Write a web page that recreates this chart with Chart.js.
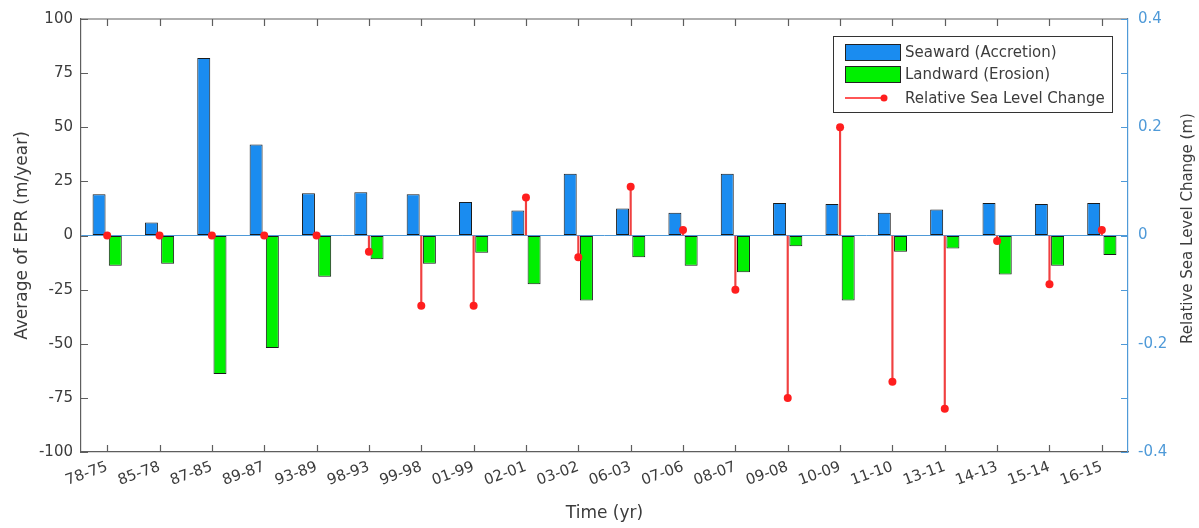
<!DOCTYPE html>
<html>
<head>
<meta charset="utf-8">
<script src="https://cdn.jsdelivr.net/npm/chart.js@4.4.0/dist/chart.umd.min.js"></script>
<style>
  body { margin: 0; background: #fff; }
</style>
</head>
<body>
<canvas id="eprChart" width="1199" height="528"></canvas>
<script>
// periods compared (later year - earlier year)
const periods = ["78-75", "85-78", "87-85", "89-87", "93-89", "98-93", "99-98", "01-99", "02-01", "03-02",
  "06-03", "07-06", "08-07", "09-08", "10-09", "11-10", "13-11", "14-13", "15-14", "16-15"];

// average EPR, m/year
const seaward = [19, 6, 82, 42, 19.5, 20, 19, 15.5, 11.5, 28.5, 12.5, 10.5, 28.5, 15, 14.5, 10.5, 12, 15, 14.5, 15];
const landward = [-14, -13, -64, -52, -19, -11, -13, -8, -22.5, -30, -10, -14, -17, -5, -30, -7.5, -6, -18, -14, -9];

// relative sea level change, m
const seaLevel = [0, 0, 0, 0, 0, -0.03, -0.13, -0.13, 0.07, -0.04, 0.09, 0.01, -0.1, -0.3, 0.2, -0.27, -0.32, -0.01, -0.09, 0.01];

const legendNames = ["Seaward (Accretion)", "Landward (Erosion)", "Relative Sea Level Change"];
const rightTitle = "Relative Sea Level Change (m)";

const BLUE = "#1a8cf0";
const GREEN = "#00f000";
const RED = "#ff1e1e";
const AXIS_BLUE = "#4f9ad8";
const AXIS_GRAY = "#5e5e5e";
const TEXT = "#3c3c3c";
const FONT = "'DejaVu Sans', 'Liberation Sans', sans-serif";

Chart.defaults.font.family = FONT;
Chart.defaults.color = TEXT;

// matlab style ticks pointing into the plot, plus the top frame line
const inwardTicks = {
  id: "inwardTicks",
  afterDatasetsDraw(chart) {
    const ctx = chart.ctx;
    const area = chart.chartArea;
    const x = chart.scales.x;
    const y = chart.scales.y;
    const y1 = chart.scales.y1;
    const len = 7;
    ctx.save();
    ctx.lineWidth = 1.2;
    ctx.strokeStyle = AXIS_GRAY;
    ctx.beginPath();
    ctx.moveTo(area.left, area.top);
    ctx.lineTo(area.right, area.top);
    x.ticks.forEach((t, i) => {
      const px = Math.round(x.getPixelForTick(i)) + 0.5;
      ctx.moveTo(px, area.bottom);
      ctx.lineTo(px, area.bottom - len);
      ctx.moveTo(px, area.top);
      ctx.lineTo(px, area.top + len);
    });
    y.ticks.forEach((t) => {
      const py = Math.round(y.getPixelForValue(t.value)) + 0.5;
      ctx.moveTo(area.left, py);
      ctx.lineTo(area.left + len, py);
    });
    ctx.stroke();
    ctx.strokeStyle = AXIS_BLUE;
    ctx.beginPath();
    y1.ticks.forEach((t) => {
      const py = Math.round(y1.getPixelForValue(t.value)) + 0.5;
      ctx.moveTo(area.right, py);
      ctx.lineTo(area.right - len, py);
    });
    ctx.stroke();

    // right axis title reads bottom to top, like the left one
    ctx.font = "15px " + FONT;
    ctx.fillStyle = TEXT;
    ctx.textAlign = "center";
    ctx.textBaseline = "middle";
    ctx.translate(1188, (area.top + area.bottom) / 2 - 7);
    ctx.rotate(-Math.PI / 2);
    ctx.fillText(rightTitle, 0, 0);
    ctx.restore();
  },
};

// boxed legend in the upper right corner of the plot
const boxLegend = {
  id: "boxLegend",
  afterDraw(chart) {
    const ctx = chart.ctx;
    const area = chart.chartArea;
    const w = 279, h = 76;
    const left = area.right - 16 - w;
    const top = area.top + 17;
    ctx.save();
    ctx.fillStyle = "#fff";
    ctx.fillRect(left, top, w, h);
    ctx.lineWidth = 1;
    ctx.strokeStyle = "#333";
    ctx.strokeRect(left + 0.5, top + 0.5, w, h);

    const rows = [top + 16, top + 38, top + 62];
    ctx.font = "15px " + FONT;
    ctx.textBaseline = "middle";
    ctx.fillStyle = TEXT;
    legendNames.forEach((name, i) => {
      ctx.fillText(name, left + 72, rows[i] + 1);
    });

    ctx.strokeStyle = "#222";
    ctx.fillStyle = BLUE;
    ctx.fillRect(left + 12, rows[0] - 8, 55, 16);
    ctx.strokeRect(left + 12.5, rows[0] - 7.5, 55, 16);
    ctx.fillStyle = GREEN;
    ctx.fillRect(left + 12, rows[1] - 8, 55, 16);
    ctx.strokeRect(left + 12.5, rows[1] - 7.5, 55, 16);

    ctx.strokeStyle = RED;
    ctx.lineWidth = 1.5;
    ctx.beginPath();
    ctx.moveTo(left + 12, rows[2]);
    ctx.lineTo(left + 52, rows[2]);
    ctx.stroke();
    ctx.fillStyle = RED;
    ctx.beginPath();
    ctx.arc(left + 51, rows[2], 3.5, 0, Math.PI * 2);
    ctx.fill();
    ctx.restore();
  },
};

const chartCanvas = document.getElementById("eprChart").getContext("2d");
new Chart(chartCanvas, {
  data: {
    labels: periods,
    datasets: [
      {
        type: "bar",
        label: legendNames[0],
        data: seaward,
        backgroundColor: BLUE,
        borderColor: "#1a1a1a",
        borderWidth: 1,
        borderSkipped: false,
        categoryPercentage: 0.62,
        barPercentage: 0.8,
        yAxisID: "y",
        order: 3,
      },
      {
        type: "bar",
        label: legendNames[1],
        data: landward,
        backgroundColor: GREEN,
        borderColor: "#1a1a1a",
        borderWidth: 1,
        borderSkipped: false,
        categoryPercentage: 0.62,
        barPercentage: 0.8,
        yAxisID: "y",
        order: 3,
      },
      {
        // stems of the stem plot
        type: "bar",
        label: "stems",
        data: seaLevel.map((v) => [0, v]),
        backgroundColor: "#f04040",
        borderWidth: 0,
        barThickness: 1.5,
        grouped: false,
        yAxisID: "y1",
        order: 2,
      },
      {
        type: "line",
        label: legendNames[2],
        data: seaLevel,
        showLine: false,
        pointRadius: 4,
        pointBackgroundColor: RED,
        pointBorderWidth: 0,
        yAxisID: "y1",
        order: 1,
      },
    ],
  },
  options: {
    responsive: false,
    animation: false,
    layout: { padding: { top: 18, left: 0, right: 0, bottom: 0 } },
    plugins: {
      legend: { display: false },
      tooltip: { enabled: false },
    },
    scales: {
      x: {
        offset: true,
        grid: { drawOnChartArea: false, drawTicks: false },
        border: { display: true, color: AXIS_GRAY, width: 1.2 },
        ticks: {
          font: { size: 15 },
          color: TEXT,
          minRotation: 20,
          maxRotation: 20,
          autoSkip: false,
          padding: 6,
        },
        title: {
          display: true,
          text: "Time (yr)",
          font: { size: 17 },
          color: TEXT,
          padding: { top: 0, bottom: 4 },
        },
        afterFit(scale) {
          scale.height = 76;
        },
      },
      y: {
        position: "left",
        min: -100,
        max: 100,
        grid: {
          drawOnChartArea: true,
          drawTicks: false,
          color: (c) => (c.tick && c.tick.value === 0 ? AXIS_BLUE : "rgba(0,0,0,0)"),
        },
        border: { display: true, color: AXIS_GRAY, width: 1.2 },
        ticks: { stepSize: 25, font: { size: 15 }, color: TEXT, padding: 8 },
        title: {
          display: true,
          text: "Average of EPR (m/year)",
          font: { size: 17 },
          color: TEXT,
          padding: { top: 12, bottom: 0 },
        },
        afterFit(scale) {
          scale.width = 81;
        },
      },
      y1: {
        position: "right",
        min: -0.4,
        max: 0.4,
        grid: { drawOnChartArea: false, drawTicks: false },
        border: { display: true, color: AXIS_BLUE, width: 1.2 },
        ticks: {
          stepSize: 0.1,
          font: { size: 15 },
          color: AXIS_BLUE,
          padding: 10,
          callback: (v) => {
            const tenth = Math.round(v * 10);
            if (tenth % 2 !== 0) return "";
            return tenth === 0 ? "0" : (tenth / 10).toFixed(1);
          },
        },
        afterFit(scale) {
          scale.width = 71;
        },
      },
    },
  },
  plugins: [inwardTicks, boxLegend],
});
</script>
</body>
</html>
